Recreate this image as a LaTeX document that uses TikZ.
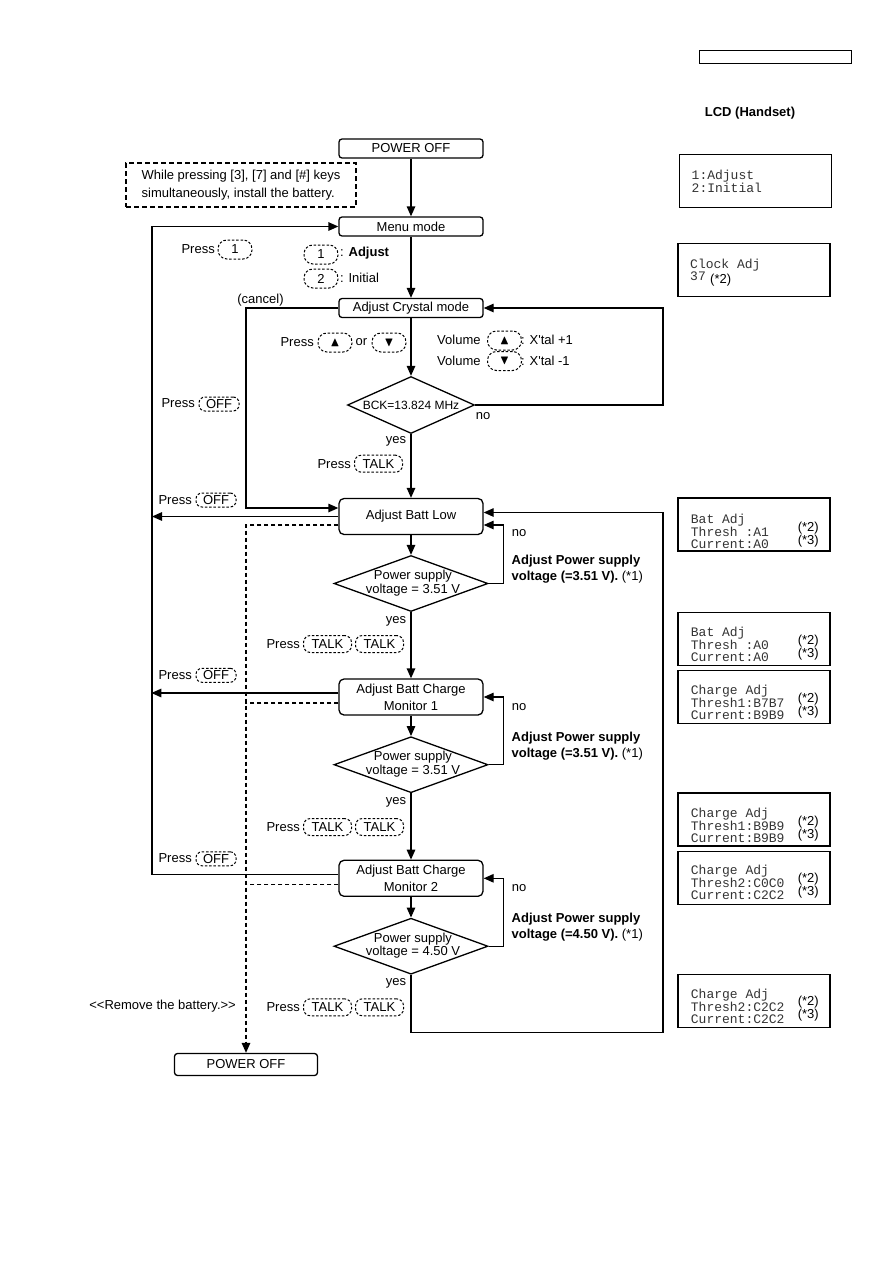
\documentclass[tikz,border=0pt]{standalone}
\usepackage{amssymb}
\usepackage{fontspec}
\setmainfont{Liberation Sans}
\setmonofont{Liberation Mono}
\usetikzlibrary{arrows.meta, shapes.geometric}

\begin{document}
\begin{tikzpicture}[x=1pt, y=-1pt,
  font=\fontsize{13}{16}\selectfont,
  box/.style={draw, line width=1.3pt, rounded corners=3pt, minimum width=144pt,
              minimum height=19pt, inner sep=0pt, align=center,
              font=\fontsize{13}{17}\selectfont},
  bigbox/.style={box, rounded corners=5pt, minimum height=36pt},
  dia/.style={draw, line width=1.3pt, diamond, inner sep=0pt,
              minimum width=154pt, minimum height=56pt},
  dtxt/.style={align=center, inner sep=0pt, font=\fontsize{13}{13.5}\selectfont},
  lbl/.style={inner sep=0pt},
  note/.style={draw, dash pattern=on 5pt off 3pt, line width=1.1pt, minimum width=230pt,
               minimum height=44pt, inner sep=0pt, align=left,
               font=\fontsize{13}{18}\selectfont},
  keyb/.style={draw, dash pattern=on 2.5pt off 1.8pt, line width=1pt,
               rounded corners=7pt, inner sep=0pt},
  keynum/.style={keyb, rounded corners=9pt, minimum width=34pt, minimum height=19pt},
  keytalk/.style={keyb, minimum width=48pt, minimum height=17pt},
  keyoff/.style={keyb, rounded corners=6pt, minimum width=40pt, minimum height=14pt},
  arr/.style={-{Triangle[length=10pt, width=8.5pt]}, line width=1.3pt},
  dline/.style={line width=1.3pt, dash pattern=on 4pt off 3pt},
  lcd/.style={draw, line width=1.5pt, minimum width=152pt, minimum height=53pt, inner sep=0pt},
  mono/.style={font=\ttfamily\fontsize{13}{12}\selectfont, align=left, inner sep=0pt,
               anchor=west, text=black!80},
  stars/.style={font=\fontsize{13}{13}\selectfont, align=right, inner sep=0pt, anchor=east}
]
\useasboundingbox (0,0) rectangle (893,1263);

\node[draw, line width=1pt, minimum width=152pt, minimum height=13pt, inner sep=0pt] (hdr) at (775,57.5) {};
\node[font=\fontsize{13}{16}\selectfont\bfseries] (lcdtitle) at (750,113) {LCD (Handset)};

\node[box] (off1) at (411,148.5) {POWER OFF};
\node[note] (inst) at (241,185) {While pressing [3], [7] and [\#] keys\\simultaneously, install the battery.};

\node[box] (menu) at (411,226.5) {Menu mode};
\node[lbl, anchor=east] (pr1) at (215,249) {Press};
\node[keynum] (k1) at (235,249.5) {1};
\node[keynum] (sel1) at (321,254.5) {1};
\node[lbl, anchor=west] (sel1t) at (340,253.5) {: \textbf{Adjust}};
\node[keynum] (sel2) at (321,278.5) {2};
\node[lbl, anchor=west] (sel2t) at (340,278) {: Initial};

\node[box] (crystal) at (411,308) {Adjust Crystal mode};
\node[lbl] (cancel) at (260.5,300.5) {(cancel)};

\node[lbl, anchor=east] (prud) at (314,342) {Press};
\node[keynum] (kup) at (335,342.5) {$\blacktriangle$};
\node[lbl] (ortxt) at (361.5,342) {or};
\node[keynum] (kdn) at (389,342.5) {$\blacktriangledown$};
\node[lbl, anchor=west] (vol1) at (437,340) {Volume};
\node[keynum] (vkup) at (504.5,340.5) {$\blacktriangle$};
\node[lbl, anchor=west] (vol1t) at (521,340) {: X\textquotesingle tal +1};
\node[lbl, anchor=west] (vol2) at (437,361) {Volume};
\node[keynum] (vkdn) at (504.5,361) {$\blacktriangledown$};
\node[lbl, anchor=west] (vol2t) at (521,361) {: X\textquotesingle tal -1};

\node[dia, minimum width=127pt, minimum height=57pt] (bck) at (411,405) {};
\node[lbl, font=\fontsize{12}{14}\selectfont] (bcktxt) at (bck) {BCK=13.824 MHz};
\node[lbl] (bckno) at (483,416.5) {no};
\node[lbl] (bckyes) at (396,441) {yes};
\node[lbl, anchor=east] (prt) at (351,464) {Press};
\node[keytalk] (kt) at (378.5,463.7) {TALK};
\node[lbl, anchor=east] (pro1) at (195,403.5) {Press};
\node[keyoff] (ko1) at (219,404) {OFF};

\node[bigbox] (battlow) at (411,516.5) {Adjust Batt Low};
\node[lbl, anchor=east] (pro2) at (192,500.5) {Press};
\node[keyoff] (ko2) at (216,500) {OFF};

\node[dia] (d1) at (411,583.5) {};
\node[dtxt] (d1t) at (413,583) {Power supply\\voltage = 3.51 V};
\node[lbl] (no1) at (519,533) {no};
\node[lbl, anchor=west, align=left] (adj1) at (511.5,569) {\textbf{Adjust Power supply}\\\textbf{voltage (=3.51 V).} (*1)};
\node[lbl] (yes1) at (396,621) {yes};
\node[lbl, anchor=east] (prtt1) at (300,644) {Press};
\node[keytalk] (kt1a) at (327.5,644) {TALK};
\node[keytalk] (kt1b) at (379.5,644) {TALK};

\node[lbl, anchor=east] (pro3) at (192,675) {Press};
\node[keyoff] (ko3) at (216,675.3) {OFF};
\node[bigbox] (mon1) at (411,697) {Adjust Batt Charge\\Monitor 1};

\node[dia] (d2) at (411,764.7) {};
\node[dtxt] (d2t) at (413,764) {Power supply\\voltage = 3.51 V};
\node[lbl] (no2) at (519,707.3) {no};
\node[lbl, anchor=west, align=left] (adj2) at (511.5,746.3) {\textbf{Adjust Power supply}\\\textbf{voltage (=3.51 V).} (*1)};
\node[lbl] (yes2) at (396,802) {yes};
\node[lbl, anchor=east] (prtt2) at (300,827.3) {Press};
\node[keytalk] (kt2a) at (327.5,827) {TALK};
\node[keytalk] (kt2b) at (379.5,827) {TALK};

\node[lbl, anchor=east] (pro4) at (192,858.5) {Press};
\node[keyoff] (ko4) at (216,858.8) {OFF};
\node[bigbox] (mon2) at (411,878.3) {Adjust Batt Charge\\Monitor 2};

\node[dia] (d3) at (411,946.2) {};
\node[dtxt] (d3t) at (413,945.5) {Power supply\\voltage = 4.50 V};
\node[lbl] (no3) at (519,888.3) {no};
\node[lbl, anchor=west, align=left] (adj3) at (511.5,927) {\textbf{Adjust Power supply}\\\textbf{voltage (=4.50 V).} (*1)};
\node[lbl] (yes3) at (396,983.5) {yes};
\node[lbl, anchor=east] (prtt3) at (300,1007.3) {Press};
\node[keytalk] (kt3a) at (327.5,1007.3) {TALK};
\node[keytalk] (kt3b) at (379.5,1007.3) {TALK};

\node[lbl, anchor=east] (rmv) at (236,1006) {<{}<Remove the battery.>{}>};
\node[box, minimum width=143pt, minimum height=22pt] (off2) at (246,1064.5) {POWER OFF};

\coordinate (lx) at (152,226.5);
\coordinate (cx) at (246,308);
\coordinate (rx) at (663,1032.7);

\draw[arr] (off1) -- (menu);
\draw[arr] (menu) -- (crystal);
\draw[arr] (crystal) -- (bck);
\draw[arr] (bck) -- (battlow);
\draw[arr] (bck.east) -- (bck.east -| rx) |- (crystal);
\draw[arr] (crystal.west) -- (cx) |- ([yshift=8.5pt]battlow.west);

\draw[arr] (battlow.west) -- (battlow.west -| lx);
\draw[arr] ([yshift=4pt]mon1.west) -- ++(-187,0);
\draw[arr] ([yshift=4pt]mon2.west) -| (lx) |- (menu);

\draw[dline, arr] ([yshift=-8.5pt]battlow.west) -| (off2);
\draw[dline] ([yshift=-6pt]mon1.west) -- ++(-93,0);
\draw[dline] ([yshift=-6pt]mon2.west) -- ++(-93,0);

\draw[arr] (battlow) -- (d1);
\draw[arr] (d1.east) -- ++(14.6,0) |- ([yshift=-8.5pt]battlow.east);
\draw[arr] (d1) -- (mon1);
\draw[arr] (mon1) -- (d2);
\draw[arr] (d2.east) -- ++(14.6,0) |- (mon1);
\draw[arr] (d2) -- (mon2);
\draw[arr] (mon2) -- (d3);
\draw[arr] (d3.east) -- ++(14.6,0) |- (mon2);
\draw[arr] (d3.south) |- (rx) |- ([yshift=4pt]battlow.east);

\node[lcd] (lcd1) at (755.5,181) {};
\node[mono] (lcd1t) at (691.5,181) {1:Adjust\\2:Initial};
\node[lcd] (lcd2) at (754,270) {};
\node[mono] (lcd2t) at (690,269.5) {Clock Adj\\37};
\node[lbl, anchor=west] (lcd2s) at (710,280) {(*2)};

\node[lcd] (lcdA) at (754.2,524.7) {};
\node[mono] (lcdAt) at (690.7,531) {Bat Adj\\Thresh :A1\\Current:A0};
\node[stars] (lcdAs) at (819,534.7) {(*2)\\(*3)};
\node[lcd] (lcdB) at (754.2,638.8) {};
\node[mono] (lcdBt) at (690.7,644.3) {Bat Adj\\Thresh :A0\\Current:A0};
\node[stars] (lcdBs) at (819,648) {(*2)\\(*3)};
\node[lcd] (lcdC) at (754.2,697) {};
\node[mono] (lcdCt) at (690.7,702) {Charge Adj\\Thresh1:B7B7\\Current:B9B9};
\node[stars] (lcdCs) at (819,705.5) {(*2)\\(*3)};
\node[lcd] (lcdD) at (754.2,819.7) {};
\node[mono] (lcdDt) at (690.7,825) {Charge Adj\\Thresh1:B9B9\\Current:B9B9};
\node[stars] (lcdDs) at (819,828.7) {(*2)\\(*3)};
\node[lcd] (lcdE) at (754.2,878) {};
\node[mono] (lcdEt) at (690.7,882.7) {Charge Adj\\Thresh2:C0C0\\Current:C2C2};
\node[stars] (lcdEs) at (819,886) {(*2)\\(*3)};
\node[lcd] (lcdF) at (754.2,1001.2) {};
\node[mono] (lcdFt) at (690.7,1006.3) {Charge Adj\\Thresh2:C2C2\\Current:C2C2};
\node[stars] (lcdFs) at (819,1009) {(*2)\\(*3)};
\end{tikzpicture}
\end{document}
